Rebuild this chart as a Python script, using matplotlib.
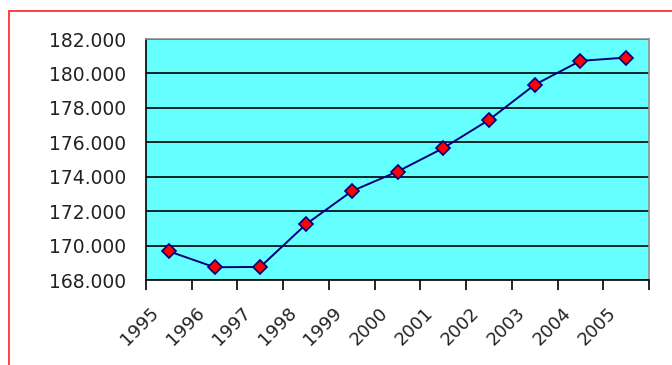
import matplotlib
matplotlib.use("Agg")
import matplotlib.pyplot as plt
import matplotlib.transforms as mtransforms
from matplotlib.patches import Rectangle
import numpy as np

years = ["1995", "1996", "1997", "1998", "1999", "2000",
         "2001", "2002", "2003", "2004", "2005"]
values = [169.67, 168.74, 168.76, 171.24, 173.16, 174.30,
          175.66, 177.30, 179.34, 180.73, 180.92]
y_ticks = [168, 170, 172, 174, 176, 178, 180, 182]

fig = plt.figure(figsize=(6.72, 3.65), dpi=100)
W, H = 672, 365

# 红色外框（右侧和底部被裁掉）
fig.patches.append(Rectangle((9 / W, -0.1), 1.2, (365 - 11) / H + 0.1,
                             transform=fig.transFigure, fill=False,
                             edgecolor="#ff3030", linewidth=1.3))

ax = fig.add_axes([146 / W, 1 - 280 / H, (649 - 146) / W, (280 - 39) / H])
ax.set_facecolor("#66ffff")

x = np.arange(len(years))
ax.plot(x, values, color="#000080", linewidth=1.4, marker="D", markersize=7.5,
        markerfacecolor="#ff0000", markeredgecolor="#000080", markeredgewidth=1.2,
        zorder=3)

ax.set_xlim(-0.5, len(years) - 0.5)
ax.set_ylim(168, 182)
ax.set_yticks(y_ticks)
ax.set_yticklabels([f"{v}.000" for v in y_ticks], fontsize=13.5, color="#222222")
ax.tick_params(axis="y", length=0, pad=14)
ax.yaxis.grid(True, color="black", linewidth=1.2)
ax.set_axisbelow(True)

# 刻度线在类别之间，标签在类别中央
ax.set_xticks(np.arange(len(years) + 1) - 0.5)
ax.set_xticklabels([])
ax.set_xticks(x, minor=True)
ax.set_xticklabels(years, minor=True, rotation=45, ha="right",
                   rotation_mode="anchor", fontsize=13, color="#222222")
ax.tick_params(axis="x", which="major", length=7, width=1.2, direction="out")
ax.tick_params(axis="x", which="minor", length=0, pad=12)

# 年份标签整体左移、下移一点
offset = mtransforms.ScaledTranslation(-0.19, -0.07, fig.dpi_scale_trans)
for lbl in ax.get_xticklabels(minor=True):
    lbl.set_transform(lbl.get_transform() + offset)

for side in ["top", "right"]:
    ax.spines[side].set_color("#909090")
    ax.spines[side].set_linewidth(1.2)
for side in ["left", "bottom"]:
    ax.spines[side].set_color("black")
    ax.spines[side].set_linewidth(1.2)

plt.savefig("out.png", dpi=100)
